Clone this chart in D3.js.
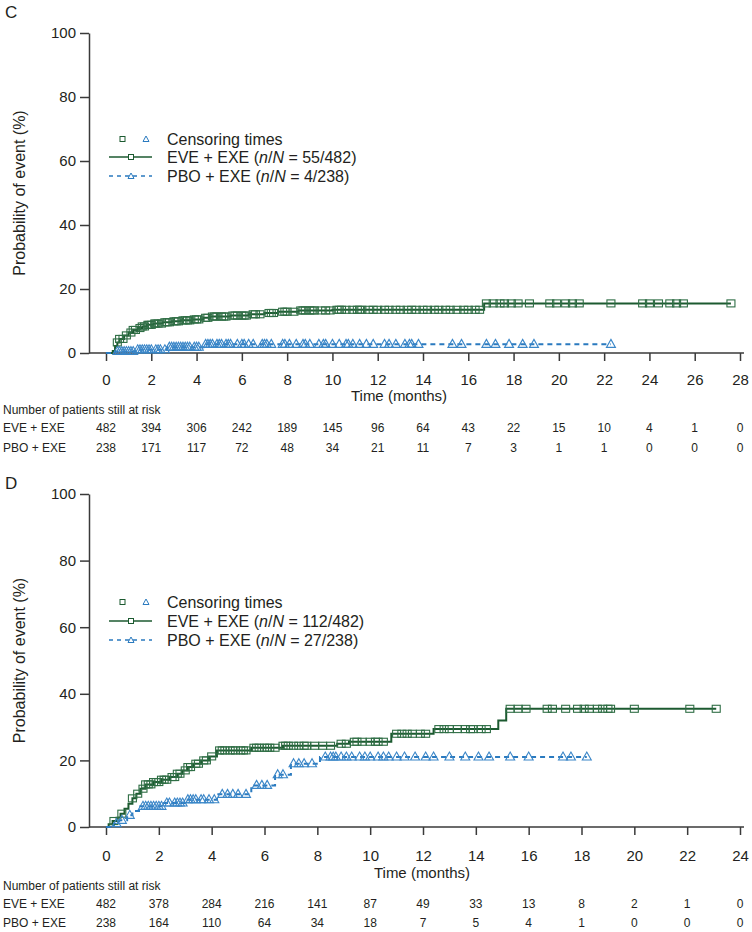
<!DOCTYPE html>
<html><head><meta charset="utf-8">
<script src="https://cdn.jsdelivr.net/npm/d3@7"></script>
<style>body{margin:0;background:#fff} svg text{font-family:"Liberation Sans",Arial,Helvetica,sans-serif;fill:#231f20}</style>
</head><body><svg id="chart" width="752" height="932"></svg>
<script>
// ---------- DATA ----------
// Panel C
const cTicks = [0,2,4,6,8,10,12,14,16,18,20,22,24,26,28];
const cEveStepT = [0,0.3,0.4,0.5,0.6,0.8,1.0,1.2,1.4,1.6,1.8,2.1,2.5,2.9,3.3,3.8,4.3,4.6,5.5,6.3,7.0,7.6,8.5,10.0,16.7];
const cEveStepV = [0,0.6,2.2,3.3,4.4,5.5,6.4,7.2,7.8,8.3,8.8,9.2,9.6,9.9,10.2,10.5,11.0,11.4,11.7,12.1,12.5,12.9,13.3,13.5,15.5];
const cEveEnd = 27.6;
const cEveCens = [0.5,0.6,0.75,0.9,1.1,1.2,1.3,1.5,1.6,1.7,1.85,1.9,2.0,2.15,2.2,2.3,2.45,2.6,2.7,2.8,3.0,3.1,3.2,3.4,3.5,3.6,3.7,3.9,4.0,4.1,4.4,4.5,4.7,4.8,4.9,5.1,5.2,5.3,5.6,5.7,5.8,6.0,6.1,6.2,6.5,6.6,6.8,7.2,7.3,7.4,7.8,7.9,8.0,8.3,8.6,8.7,8.8,9.0,9.1,9.2,9.5,9.7,9.9,10.2,10.3,10.4,10.6,10.9,11.1,11.2,11.3,11.6,11.8,12.0,12.3,12.5,12.8,13.0,13.3,13.5,13.7,14.0,14.2,14.5,14.7,15.0,15.2,15.5,15.8,16.0,16.3,16.5,16.8,17.1,17.4,17.6,17.9,18.2,18.7,19.6,19.9,20.3,20.6,20.9,22.3,23.7,24.0,24.4,24.9,25.2,25.5,27.6];
const cPboStepT = [0,0.4,1.3,2.7,4.3];
const cPboStepV = [0,0.45,1.0,1.8,2.7];
const cPboEnd = 22.3;
const cPboCens = [0.5,0.6,0.7,0.8,0.9,1.0,1.1,1.2,1.4,1.5,1.6,1.7,1.8,1.9,2.0,2.2,2.3,2.4,2.6,2.8,2.9,3.0,3.1,3.2,3.3,3.4,3.5,3.6,3.7,3.9,4.0,4.1,4.4,4.5,4.6,4.7,4.9,5.0,5.1,5.3,5.4,5.5,5.8,6.0,6.1,6.3,6.5,6.9,7.0,7.1,7.3,7.8,7.9,8.1,8.4,8.7,8.8,9.0,9.4,9.6,9.7,10.0,10.3,10.6,10.7,10.9,11.2,11.5,11.8,12.3,12.5,12.8,13.2,13.4,13.5,13.8,15.3,15.7,16.8,17.2,17.8,18.4,18.9,22.3];
const cRiskEve = [482,394,306,242,189,145,96,64,43,22,15,10,4,1,0];
const cRiskPbo = [238,171,117,72,48,34,21,11,7,3,1,1,0,0,0];
const cLegend = ["55/482","4/238"];

// Panel D
const dTicks = [0,2,4,6,8,10,12,14,16,18,20,22,24];
const dEveStepT = [0,0.1,0.25,0.4,0.55,0.7,0.85,1.0,1.15,1.3,1.5,1.8,2.1,2.4,2.7,2.9,3.1,3.3,3.6,3.9,4.2,5.5,6.7,8.75,9.2,10.8,12.4,14.85,15.15];
const dEveStepV = [0,0.8,1.8,2.8,4.0,5.5,7.0,8.6,10.0,11.5,12.8,13.5,14.2,15.0,16.0,17.0,18.0,19.0,20.0,21.2,23.0,23.8,24.4,25.0,25.6,28.0,29.4,32.0,35.5];
const dEveEnd = 23.1;
const dEveCens = [0.3,0.6,1.0,1.2,1.4,1.5,1.6,1.7,1.8,1.9,2.0,2.1,2.2,2.3,2.5,2.6,2.7,2.8,3.0,3.1,3.2,3.4,3.5,3.7,3.8,4.0,4.3,4.4,4.5,4.7,4.8,4.9,5.1,5.2,5.3,5.6,5.7,5.8,6.0,6.1,6.2,6.4,6.7,6.8,6.9,7.1,7.3,7.5,7.6,7.9,8.2,8.5,8.9,9.1,9.4,9.5,9.7,10.0,10.2,10.3,10.5,11.0,11.2,11.4,11.6,11.9,12.1,12.6,12.8,13.0,13.3,13.6,13.8,13.9,14.2,14.4,15.3,15.6,15.9,16.7,16.9,17.4,17.85,18.1,18.3,18.6,18.8,19.0,19.1,20.0,22.1,23.1];
const dPboStepT = [0,0.3,0.5,0.8,1.0,1.3,2.2,3.0,4.2,5.5,6.4,7.0,8.1];
const dPboStepV = [0,1.0,2.0,3.5,4.8,6.2,7.2,8.2,9.8,12.5,15.7,19.0,21.0];
const dPboEnd = 18.2;
const dPboCens = [0.4,0.6,0.9,1.4,1.5,1.6,1.7,1.8,1.9,2.0,2.1,2.3,2.4,2.6,2.7,2.8,2.9,3.1,3.2,3.3,3.4,3.6,3.7,3.9,4.1,4.4,4.6,4.8,5.0,5.3,5.7,5.9,6.1,6.5,6.7,7.1,7.3,7.5,7.8,8.3,8.5,8.6,8.7,8.9,9.1,9.3,9.6,9.8,10.0,10.3,10.5,10.7,11.0,11.3,11.7,12.1,12.4,13.0,13.6,14.1,14.5,15.3,16.0,17.3,17.6,18.2];
const dRiskEve = [482,378,284,216,141,87,49,33,13,8,2,1,0];
const dRiskPbo = [238,164,110,64,34,18,7,5,4,1,0,0,0];
const dLegend = ["112/482","27/238"];

const yTicks = [0,20,40,60,80,100];
const groupNames = ["EVE + EXE","PBO + EXE"];

// ---------- STYLE ----------
const GREEN = "#1c5a30", BLUE = "#2a7abf", AX = "#3a3a3a";
const svg = d3.select("#chart");

function stepVal(ts, vs, t){ let v = vs[0]; for(let i=0;i<ts.length;i++){ if(ts[i] <= t + 1e-9) v = vs[i]; } return v; }

function panel(cfg){
  const g = svg.append("g");
  const x = d3.scaleLinear().domain([0, cfg.xmax]).range([106, 740]);
  const y = d3.scaleLinear().domain([0,100]).range([cfg.y0, cfg.y100]);
  const b = cfg.y0;

  g.append("text").attr("x",5).attr("y",cfg.labelY).attr("font-size",17).text(cfg.label);

  // y axis
  const ya = g.append("g").attr("transform","translate(89,0)")
    .call(d3.axisLeft(y).tickValues(yTicks).tickSize(9).tickSizeOuter(0).tickPadding(4));
  ya.selectAll("text").attr("font-size",15).attr("fill","#231f20");
  ya.selectAll("line,path").attr("stroke",AX).attr("stroke-width",1.5);

  // x axis
  const xa = g.append("g").attr("transform",`translate(0,${b})`)
    .call(d3.axisBottom(x).tickValues(cfg.ticks).tickSize(8).tickSizeOuter(0).tickPadding(cfg.tickPad).tickFormat(d3.format("d")));
  xa.select("path").remove();
  xa.selectAll("text").attr("font-size",15).attr("fill","#231f20");
  xa.selectAll("line").attr("stroke",AX).attr("stroke-width",1.5);
  g.append("line").attr("x1",89).attr("x2",744).attr("y1",b).attr("y2",b).attr("stroke",AX).attr("stroke-width",1.5);

  g.append("text").attr("x",cfg.titleX).attr("y",cfg.titleY).attr("text-anchor","middle").attr("font-size",15).text("Time (months)");
  g.append("text").attr("transform",`translate(25,${(cfg.y0+cfg.y100)/2}) rotate(-90)`).attr("text-anchor","middle").attr("font-size",16).text("Probability of event (%)");

  // curves
  const line = d3.line().x(d=>x(d[0])).y(d=>y(d[1])).curve(d3.curveStepAfter);
  cfg.series.forEach(s=>{
    const pts = s.t.map((t,i)=>[t,s.v[i]]);
    pts.push([s.end, s.v[s.v.length-1]]);
    g.append("path").datum(pts).attr("d",line).attr("fill","none")
      .attr("stroke",s.color).attr("stroke-width",2).attr("stroke-dasharray",s.dash||null);
  });
  // censor marks
  cfg.series.forEach(s=>{
    s.cens.forEach(t=>{
      const cx = x(t), cy = y(stepVal(s.t, s.v, t));
      if(s.shape==="sq"){
        g.append("rect").attr("x",cx-4).attr("y",cy-3.5).attr("width",8).attr("height",7)
          .attr("fill","none").attr("stroke",s.mark).attr("stroke-width",1.1);
      } else {
        g.append("path").attr("d",`M${cx},${cy-5}L${cx+4.5},${cy+3}L${cx-4.5},${cy+3}Z`)
          .attr("fill","none").attr("stroke",s.mark).attr("stroke-width",1.1);
      }
    });
  });

  // legend
  const ly = cfg.legY;
  const lg = g.append("g");
  lg.append("rect").attr("x",120).attr("y",ly[0]-2.5).attr("width",5).attr("height",5).attr("fill","none").attr("stroke",GREEN).attr("stroke-width",1);
  lg.append("path").attr("d",`M146,${ly[0]-3}L149,${ly[0]+2.5}L143,${ly[0]+2.5}Z`).attr("fill","none").attr("stroke",BLUE).attr("stroke-width",1);
  lg.append("text").attr("x",167).attr("y",ly[0]+6).attr("font-size",16).text("Censoring times");
  lg.append("line").attr("x1",109).attr("x2",152).attr("y1",ly[1]).attr("y2",ly[1]).attr("stroke",GREEN).attr("stroke-width",1.6);
  lg.append("rect").attr("x",128.5).attr("y",ly[1]-2.5).attr("width",5).attr("height",5).attr("fill","#fff").attr("stroke",GREEN).attr("stroke-width",1);
  lg.append("line").attr("x1",109).attr("x2",152).attr("y1",ly[2]).attr("y2",ly[2]).attr("stroke",BLUE).attr("stroke-width",1.6).attr("stroke-dasharray","4,4");
  lg.append("path").attr("d",`M131,${ly[2]-3}L134,${ly[2]+2.5}L128,${ly[2]+2.5}Z`).attr("fill","#fff").attr("stroke",BLUE).attr("stroke-width",1);
  [1,2].forEach(k=>{
    const t = lg.append("text").attr("x",167).attr("y",ly[k]+6).attr("font-size",16);
    t.append("tspan").text(groupNames[k-1]+" (");
    t.append("tspan").attr("font-style","italic").text("n");
    t.append("tspan").text("/");
    t.append("tspan").attr("font-style","italic").text("N");
    t.append("tspan").text(" = "+cfg.legend[k-1]+")");
  });

  // risk table
  const ry = cfg.riskY;
  g.append("text").attr("x",3).attr("y",ry[0]).attr("font-size",12).text("Number of patients still at risk");
  [[cfg.riskEve,ry[1]],[cfg.riskPbo,ry[2]]].forEach((r,k)=>{
    g.append("text").attr("x",3).attr("y",r[1]).attr("font-size",12).text(groupNames[k]);
    g.selectAll(null).data(r[0]).enter().append("text")
      .attr("x",(d,i)=>x(cfg.ticks[i])).attr("y",r[1]).attr("text-anchor","middle").attr("font-size",12).text(d=>d);
  });
}

panel({label:"C",labelY:18,y0:353,y100:33,tickPad:13,titleX:399,titleY:401,legY:[139,157,176],riskY:[414,432,452],
  xmax:28,ticks:cTicks,legend:cLegend,riskEve:cRiskEve,riskPbo:cRiskPbo,
  series:[
    {t:cEveStepT,v:cEveStepV,end:cEveEnd,cens:cEveCens,color:GREEN,mark:"#2f6e45",shape:"sq"},
    {t:cPboStepT,v:cPboStepV,end:cPboEnd,cens:cPboCens,color:BLUE,mark:"#3a86c8",shape:"tri",dash:"5,4"}
  ]});
panel({label:"D",labelY:489,y0:827,y100:494,tickPad:15,titleX:422,titleY:878,legY:[602,621,640],riskY:[890,908,927],
  xmax:24,ticks:dTicks,legend:dLegend,riskEve:dRiskEve,riskPbo:dRiskPbo,
  series:[
    {t:dEveStepT,v:dEveStepV,end:dEveEnd,cens:dEveCens,color:GREEN,mark:"#2f6e45",shape:"sq"},
    {t:dPboStepT,v:dPboStepV,end:dPboEnd,cens:dPboCens,color:BLUE,mark:"#3a86c8",shape:"tri",dash:"5,4"}
  ]});
</script></body></html>
